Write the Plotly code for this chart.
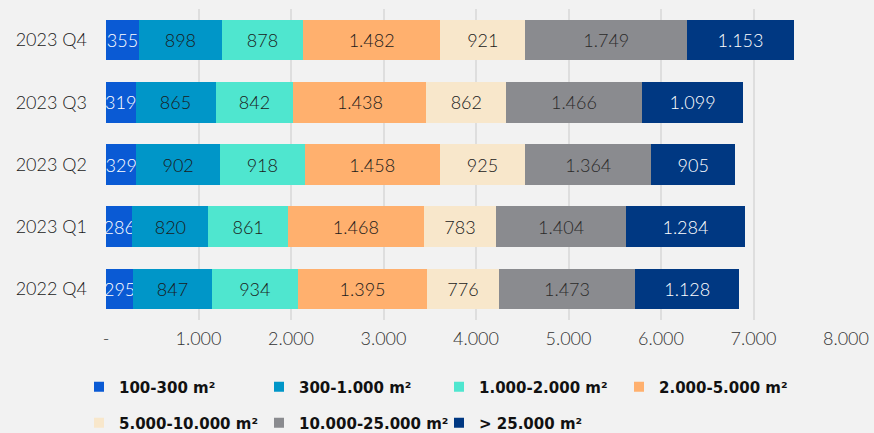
import plotly.graph_objects as go

categories = ["2023 Q4", "2023 Q3", "2023 Q2", "2023 Q1", "2022 Q4"]
series_names = ["100-300 m²", "300-1.000 m²", "1.000-2.000 m²", "2.000-5.000 m²",
                "5.000-10.000 m²", "10.000-25.000 m²", "> 25.000 m²"]
v_100_300 = [355, 319, 329, 286, 295]
v_300_1000 = [898, 865, 902, 820, 847]
v_1000_2000 = [878, 842, 918, 861, 934]
v_2000_5000 = [1482, 1438, 1458, 1468, 1395]
v_5000_10000 = [921, 862, 925, 783, 776]
v_10000_25000 = [1749, 1466, 1364, 1404, 1473]
v_25000 = [1153, 1099, 905, 1284, 1128]
tick_vals = [0, 1000, 2000, 3000, 4000, 5000, 6000, 7000, 8000]
tick_text = ["-", "1.000", "2.000", "3.000", "4.000", "5.000", "6.000", "7.000", "8.000"]

values = [v_100_300, v_300_1000, v_1000_2000, v_2000_5000, v_5000_10000, v_10000_25000, v_25000]
colors = ["#0a5ad4", "#0096c8", "#4fe6cf", "#ffb06e", "#f8e7cb", "#8a8b8f", "#003882"]
text_colors = ["white", "#1a1a1a", "#1a1a1a", "#1a1a1a", "#1a1a1a", "#2a2a2a", "white"]
legend_ids = ["legend", "legend", "legend", "legend", "legend2", "legend2", "legend2"]

FONT = "Lato"
fig = go.Figure()
for name, vals, c, tc in zip(series_names, values, colors, text_colors):
    fig.add_trace(go.Bar(
        y=categories, x=vals, name=name, orientation="h",
        marker=dict(color=c, line=dict(width=0)),
        texttemplate="%{x:,}", textposition="inside", insidetextanchor="middle",
        textangle=0, constraintext="none",
        textfont=dict(color=tc, size=18, family=FONT, weight=300),
        hoverinfo="skip", showlegend=False,
    ))
# legend entries (small square markers)
for name, c, lg in zip(series_names, colors, legend_ids):
    fig.add_trace(go.Scatter(
        x=[None], y=[None], mode="markers", name=name, legend=lg,
        marker=dict(symbol="square", size=10, color=c), showlegend=True,
    ))

legend_common = dict(orientation="h", xanchor="left", yanchor="middle",
                     xref="container", yref="container",
                     entrywidth=135, entrywidthmode="pixels", traceorder="normal",
                     font=dict(size=15, family="DejaVu Sans", weight="bold", color="#111111"),
                     itemwidth=30, bgcolor="rgba(0,0,0,0)", borderwidth=0)

fig.update_layout(
    barmode="stack", bargap=0.35,
    width=874, height=433,
    paper_bgcolor="#f2f2f2", plot_bgcolor="#f2f2f2",
    separators=",.",
    margin=dict(l=106, r=28, t=9, b=113, autoexpand=False),
    font=dict(family=FONT, color="#222222", size=14),
    xaxis=dict(range=[0, 8000], tickvals=tick_vals, ticktext=tick_text,
               showgrid=True, gridcolor="#dedede", gridwidth=2, zeroline=False,
               tickfont=dict(size=18, family=FONT, weight=300, color="#333333"), ticklen=0,
               ticklabelstandoff=6, showline=False, automargin=False),
    yaxis=dict(categoryorder="array", categoryarray=categories, autorange="reversed",
               tickfont=dict(size=18, family=FONT, weight=300, color="#1a1a1a"), ticks="",
               ticklabelstandoff=18, showgrid=False, automargin=False),
    legend=dict(x=79 / 874, y=1 - 387 / 433, **legend_common),
    legend2=dict(x=79 / 874, y=1 - 423 / 433, **legend_common),
    showlegend=True,
)
fig.write_html(
    "out.html",
    config={"displayModeBar": False},
    post_script="document.body.style.margin='0';document.body.style.background='#f2f2f2';",
)
